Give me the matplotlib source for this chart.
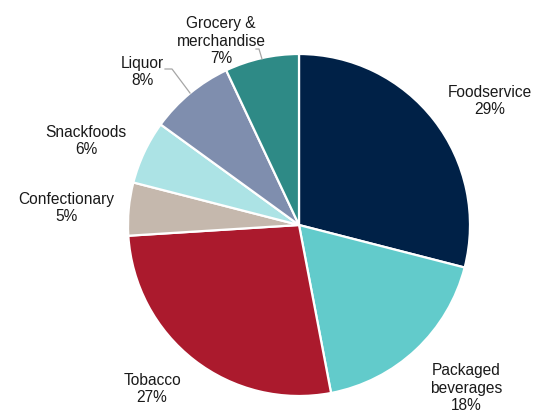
import matplotlib
matplotlib.use("Agg")
import matplotlib.pyplot as plt

categories = ["Foodservice", "Packaged\nbeverages", "Tobacco", "Confectionary",
              "Snackfoods", "Liquor", "Grocery &\nmerchandise"]
shares = [29, 18, 27, 5, 6, 8, 7]
colors = ["#002147", "#62cbcb", "#ab1a2d", "#c5b8ad", "#ace3e5", "#7f8eae", "#2e8a86"]

plt.rcParams["font.family"] = ["Liberation Sans", "DejaVu Sans"]

W, H = 536, 413
fig = plt.figure(figsize=(W / 100, H / 100), dpi=100)
ax = fig.add_axes([0, 0, 1, 1])

def py(y):
    # pixel row (from top) to data y
    return H - y

cx, cy, r = 299, 225, 171
ax.pie(shares, colors=colors, startangle=90, counterclock=False,
       center=(cx, py(cy)), radius=r,
       wedgeprops=dict(edgecolor="white", linewidth=1.6))

label_pos = [(490, 101), (466, 388), (152, 389), (66, 208),
             (86, 141), (142, 72), (221, 41)]
for name, val, (x, y) in zip(categories, shares, label_pos):
    ax.text(x, py(y), f"{name}\n{val}%", ha="center", va="center",
            fontsize=11.2, color="#1a1a1a", linespacing=1.18)

# leader lines for the small top wedges
ax.plot([165, 172, 190], [py(69), py(69), py(93)], color="#a6a6a6", lw=0.9)
ax.plot([256, 259, 262], [py(49), py(49), py(59)], color="#a6a6a6", lw=0.9)

ax.set_xlim(0, W)
ax.set_ylim(0, H)
ax.set_aspect("equal")
ax.axis("off")
fig.savefig("out.png", dpi=100)
